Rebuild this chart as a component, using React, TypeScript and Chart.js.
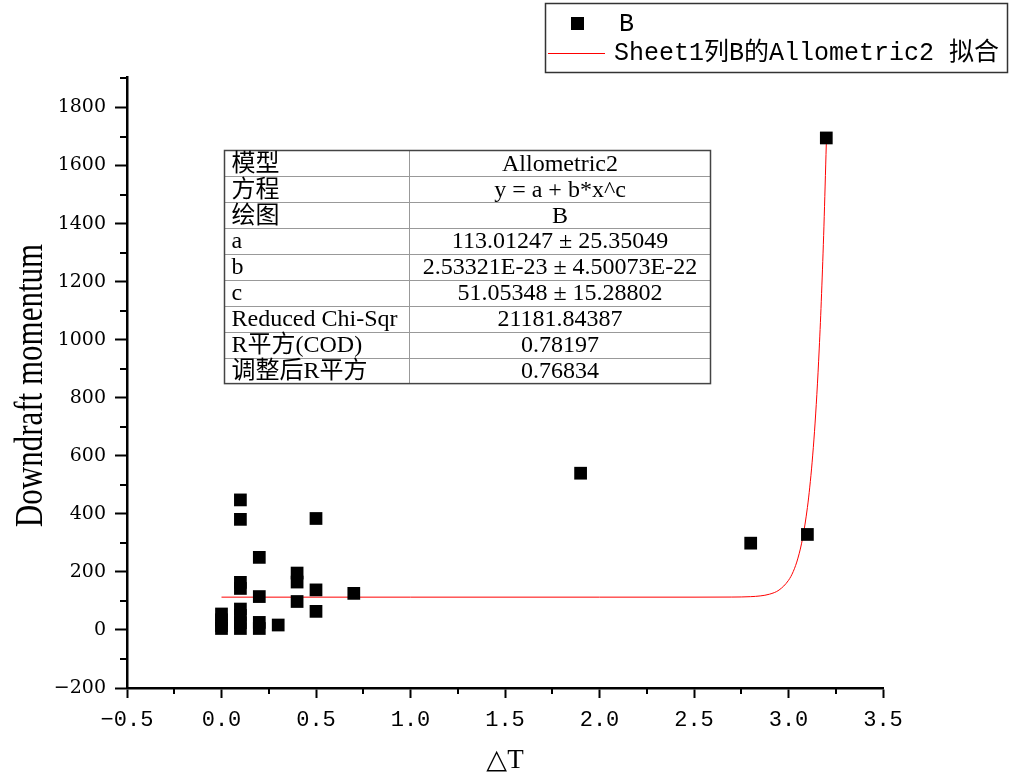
import React, { useEffect, useRef } from 'react';
import { Chart, registerables } from 'chart.js';

Chart.register(...registerables);

// ---- data ----
const seriesName = 'B';
const fitName = 'Sheet1列B的Allometric2 拟合';
const xTitle = '△T';
const yTitle = 'Downdraft momentum';

const pointX = [
  0, 0, 0, 0,
  0.1, 0.1, 0.1, 0.1, 0.1, 0.1, 0.1, 0.1,
  0.2, 0.2, 0.2, 0.2,
  0.3,
  0.4, 0.4, 0.4,
  0.5, 0.5, 0.5,
  0.7,
  1.9, 2.8, 3.1, 3.2,
];
const pointY = [
  55, 35, 15, 5,
  448, 381, 164, 143, 72, 50, 25, 5,
  250, 115, 26, 5,
  17,
  196, 165, 98,
  384, 138, 64,
  126,
  540, 299, 329, 1695,
];

const fitX = [0, 0.5, 1.0, 1.5, 2.0, 2.5, 2.7, 2.8, 2.85, 2.9, 2.95, 3.0, 3.025, 3.05, 3.075, 3.1, 3.1125, 3.125, 3.1375, 3.15, 3.1625, 3.175, 3.1875, 3.2];
const fitY = [113, 113, 113, 113, 113, 113, 113.3, 114.7, 117.2, 123.3, 137.5, 170.9, 201, 247.5, 317, 421.6, 492, 578, 683, 811.5, 968, 1158.6, 1391, 1674];

const xTicks = [-0.5, 0, 0.5, 1.0, 1.5, 2.0, 2.5, 3.0, 3.5];
const xMinorTicks = [-0.25, 0.25, 0.75, 1.25, 1.75, 2.25, 2.75, 3.25];
const yTicks = [-200, 0, 200, 400, 600, 800, 1000, 1200, 1400, 1600, 1800];
const yMinorTicks = [-100, 100, 300, 500, 700, 900, 1100, 1300, 1500, 1700, 1900];

const tableLabels = ['模型', '方程', '绘图', 'a', 'b', 'c', 'Reduced Chi-Sqr', 'R平方(COD)', '调整后R平方'];
const tableValues = [
  'Allometric2',
  'y = a + b*x^c',
  'B',
  '113.01247 ± 25.35049',
  '2.53321E-23 ± 4.50073E-22',
  '51.05348 ± 15.28802',
  '21181.84387',
  '0.78197',
  '0.76834',
];

const minus = (s: string) => s.replace('-', '−');

const decorPlugin = {
  id: 'decor',
  afterDraw(chart: any) {
    const ctx: CanvasRenderingContext2D = chart.ctx;
    const xs = chart.scales.x;
    const ys = chart.scales.y;
    const area = chart.chartArea;
    ctx.save();

    // minor ticks
    ctx.strokeStyle = '#000';
    ctx.lineWidth = 2;
    for (const v of xMinorTicks) {
      const px = Math.round(xs.getPixelForValue(v));
      ctx.beginPath();
      ctx.moveTo(px, area.bottom);
      ctx.lineTo(px, area.bottom + 6);
      ctx.stroke();
    }
    for (const v of yMinorTicks) {
      const py = Math.round(ys.getPixelForValue(v));
      ctx.beginPath();
      ctx.moveTo(area.left, py);
      ctx.lineTo(area.left - 7, py);
      ctx.stroke();
    }

    // y title (tall serif)
    ctx.save();
    ctx.translate(42, (area.top + area.bottom) / 2 + 3);
    ctx.rotate(-Math.PI / 2);
    ctx.scale(1, 1.3);
    ctx.font = '31px "Liberation Serif", serif';
    ctx.textAlign = 'center';
    ctx.textBaseline = 'alphabetic';
    ctx.fillStyle = '#000';
    ctx.fillText(yTitle, 0, 0);
    ctx.restore();

    // x title
    ctx.font = '27px "Liberation Serif", "DejaVu Serif", serif';
    ctx.textAlign = 'center';
    ctx.textBaseline = 'alphabetic';
    ctx.fillStyle = '#000';
    ctx.fillText(xTitle, (area.left + area.right) / 2, 768);

    // legend
    ctx.strokeStyle = '#333';
    ctx.lineWidth = 1.5;
    ctx.strokeRect(545.5, 3.5, 462, 69);
    ctx.fillStyle = '#000';
    ctx.fillRect(571, 17, 13, 13);
    ctx.strokeStyle = '#ff0000';
    ctx.lineWidth = 1;
    ctx.beginPath();
    ctx.moveTo(548, 53.5);
    ctx.lineTo(605, 53.5);
    ctx.stroke();
    ctx.font = '25px "Liberation Mono", "Noto Sans CJK SC", monospace';
    ctx.textAlign = 'left';
    ctx.textBaseline = 'middle';
    ctx.fillStyle = '#000';
    ctx.fillText(seriesName, 619, 24);
    ctx.fillText(fitName, 614, 53);

    // table
    const tx0 = 224.5, tx1 = 710.5, ty0 = 150.5, colX = 409.5;
    const rowH = 25.9;
    const n = tableLabels.length;
    ctx.fillStyle = '#fff';
    ctx.fillRect(tx0, ty0, tx1 - tx0, rowH * n);
    ctx.strokeStyle = '#999';
    ctx.lineWidth = 1;
    for (let i = 1; i < n; i++) {
      const y = Math.round(ty0 + i * rowH) + 0.5;
      ctx.beginPath();
      ctx.moveTo(tx0, y);
      ctx.lineTo(tx1, y);
      ctx.stroke();
    }
    ctx.beginPath();
    ctx.moveTo(colX, ty0);
    ctx.lineTo(colX, ty0 + rowH * n);
    ctx.stroke();
    ctx.strokeStyle = '#444';
    ctx.lineWidth = 1.5;
    ctx.strokeRect(tx0, ty0, tx1 - tx0, rowH * n);

    ctx.font = '24px "Liberation Serif", "Noto Sans CJK SC", serif';
    ctx.fillStyle = '#000';
    ctx.textBaseline = 'middle';
    for (let i = 0; i < n; i++) {
      const cy = ty0 + i * rowH + rowH / 2 + 1;
      ctx.textAlign = 'left';
      ctx.fillText(tableLabels[i], tx0 + 7, cy);
      ctx.textAlign = 'center';
      ctx.fillText(tableValues[i], (colX + tx1) / 2, cy);
    }

    ctx.restore();
  },
};

export default function App() {
  const ref = useRef<HTMLCanvasElement | null>(null);

  useEffect(() => {
    if (!ref.current) return;
    const pts = pointX.map((x, i) => ({ x, y: pointY[i] }));
    const fit = fitX.map((x, i) => ({ x, y: fitY[i] }));
    const chart = new Chart(ref.current, {
      type: 'scatter',
      data: {
        datasets: [
          {
            type: 'scatter',
            label: seriesName,
            data: pts,
            pointStyle: 'rect',
            pointRadius: 9,
            pointHoverRadius: 9,
            backgroundColor: '#000',
            borderColor: '#000',
            borderWidth: 0,
          },
          {
            type: 'line',
            label: fitName,
            data: fit,
            borderColor: '#ff0000',
            borderWidth: 1,
            pointRadius: 0,
            showLine: true,
            fill: false,
            cubicInterpolationMode: 'monotone',
          } as any,
        ],
      },
      options: {
        animation: false,
        responsive: false,
        devicePixelRatio: 1,
        layout: { padding: { left: 0, top: 77, right: 126, bottom: 0 } },
        plugins: { legend: { display: false }, tooltip: { enabled: false } },
        scales: {
          x: {
            type: 'linear',
            min: -0.5,
            max: 3.5,
            afterBuildTicks: (s: any) => {
              s.ticks = xTicks.map((v) => ({ value: v }));
            },
            afterFit: (s: any) => {
              s.height = 89;
            },
            border: { display: true, color: '#000', width: 2.5 },
            grid: { display: true, drawOnChartArea: false, drawTicks: true, tickLength: 10, tickWidth: 2, tickColor: '#000' },
            ticks: {
              font: { family: '"Liberation Mono", monospace', size: 22 },
              color: '#000',
              padding: 9,
              maxRotation: 0,
              autoSkip: false,
              callback: (v: any) => minus(Number(v).toFixed(1)),
            },
          },
          y: {
            type: 'linear',
            min: -200,
            max: 1905,
            afterBuildTicks: (s: any) => {
              s.ticks = yTicks.map((v) => ({ value: v }));
            },
            afterFit: (s: any) => {
              s.width = 127;
            },
            border: { display: true, color: '#000', width: 2.5 },
            grid: { display: true, drawOnChartArea: false, drawTicks: true, tickLength: 12, tickWidth: 2, tickColor: '#000' },
            ticks: {
              font: { family: '"DejaVu Serif", serif', size: 19 },
              color: '#000',
              padding: 9,
              autoSkip: false,
              callback: (v: any) => minus(String(v)),
            },
          },
        },
      },
      plugins: [decorPlugin],
    });
    return () => chart.destroy();
  }, []);

  return (
    <div style={{ position: 'absolute', left: 0, top: 0, width: 1009, height: 777, background: '#fff' }}>
      <canvas ref={ref} width={1009} height={777} style={{ width: 1009, height: 777, display: 'block' }} />
    </div>
  );
}
